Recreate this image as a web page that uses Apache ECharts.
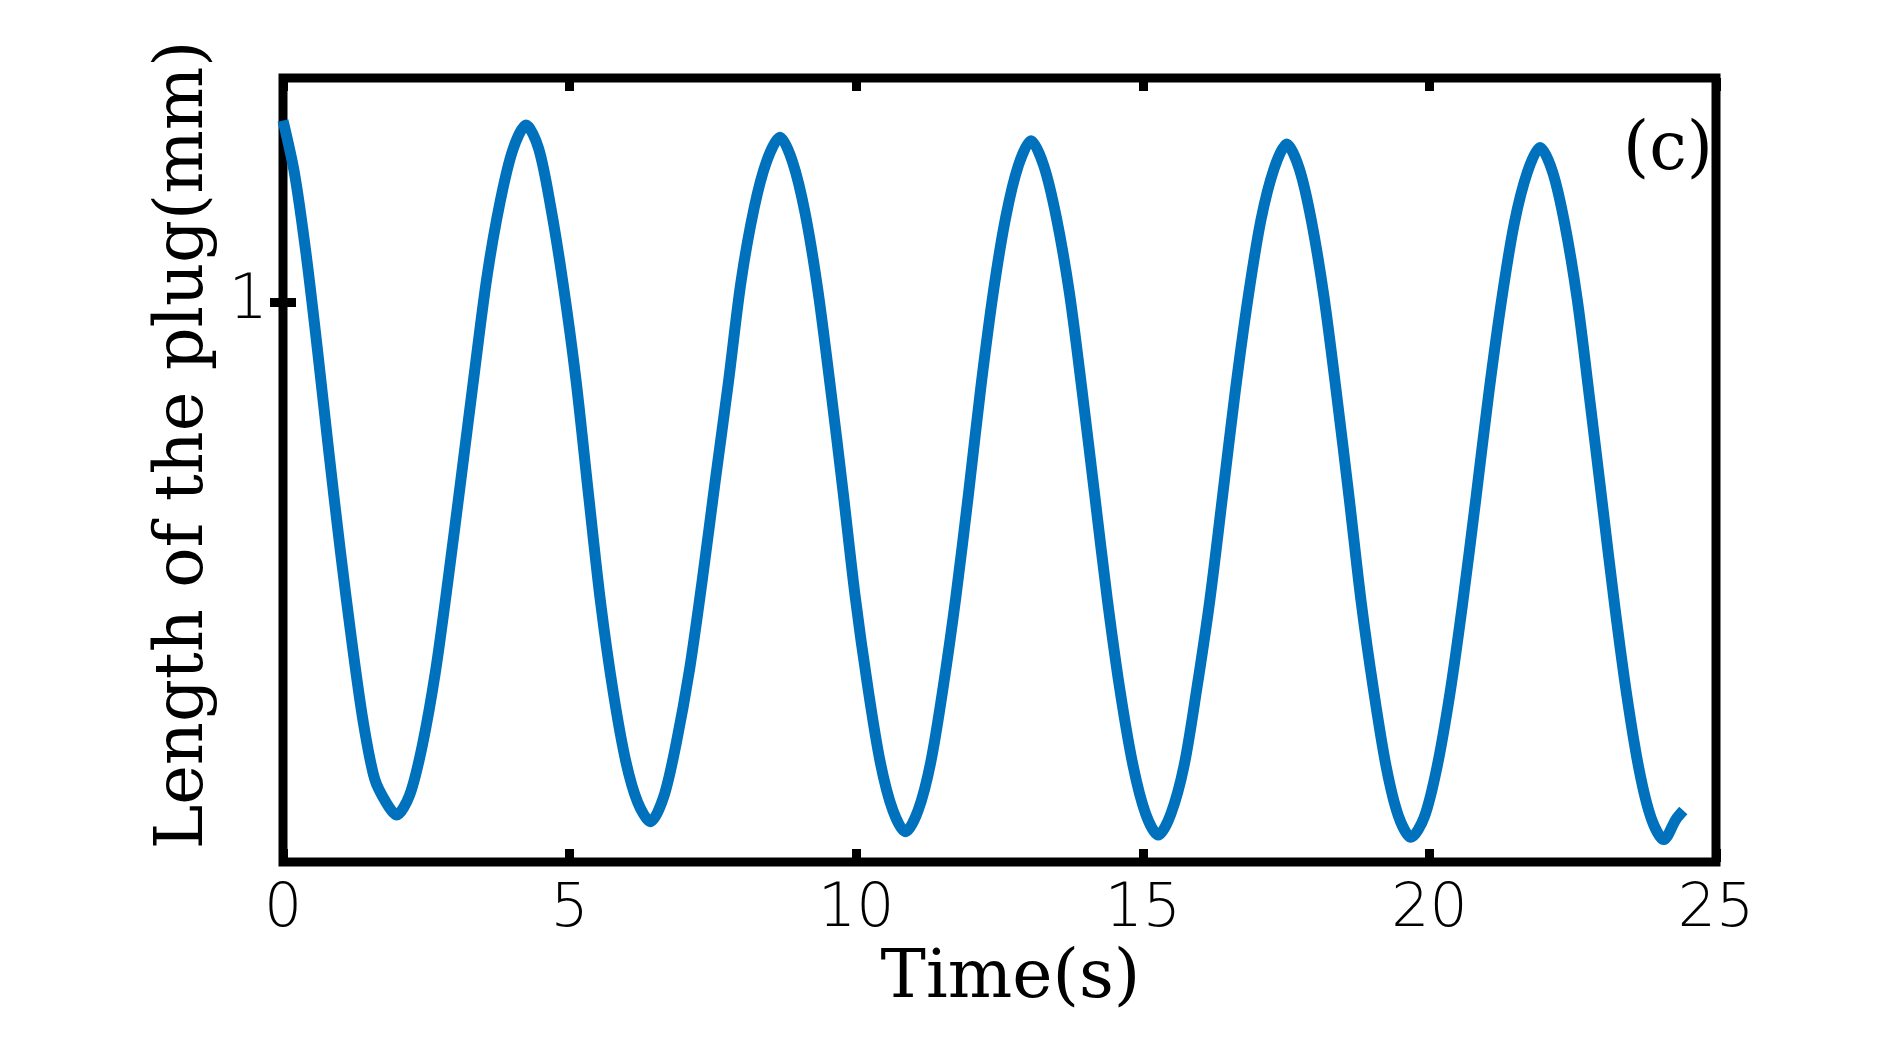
<!DOCTYPE html>
<html>
<head>
<meta charset="utf-8">
<script src="https://cdn.jsdelivr.net/npm/echarts@6/dist/echarts.min.js"></script>
<style>
  html, body { margin: 0; padding: 0; background: #fff; }
  #chart { width: 1898px; height: 1040px; }
</style>
</head>
<body>
<div id="chart"></div>
<script>
// plug length over time
const time = [
  0, 0.2, 0.4, 0.6, 0.8, 1.0, 1.2, 1.4, 1.6, 1.8, 1.98,
  2.21, 2.43, 2.66, 2.88, 3.11, 3.34, 3.56, 3.79, 4.01, 4.24,
  4.46, 4.67, 4.89, 5.11, 5.33, 5.54, 5.76, 5.98, 6.19, 6.41,
  6.64, 6.86, 7.09, 7.31, 7.54, 7.77, 7.99, 8.22, 8.44, 8.67,
  8.89, 9.11, 9.33, 9.55, 9.77, 9.98, 10.20, 10.42, 10.64, 10.86,
  11.08, 11.30, 11.52, 11.74, 11.96, 12.17, 12.39, 12.61, 12.83, 13.05,
  13.27, 13.49, 13.72, 13.94, 14.16, 14.38, 14.60, 14.83, 15.05, 15.27,
  15.49, 15.72, 15.94, 16.17, 16.39, 16.61, 16.84, 17.06, 17.29, 17.51,
  17.73, 17.94, 18.16, 18.38, 18.60, 18.81, 19.03, 19.25, 19.46, 19.68,
  19.91, 20.13, 20.36, 20.58, 20.81, 21.03, 21.26, 21.48, 21.71, 21.93,
  22.15, 22.36, 22.58, 22.79, 23.01, 23.23, 23.44, 23.66, 23.87, 24.09,
  24.30, 24.43
];
const plugLength = [
  1.162, 1.115, 1.044, 0.958, 0.866, 0.778, 0.697, 0.625, 0.574, 0.553, 0.542,
  0.560, 0.604, 0.670, 0.752, 0.844, 0.937, 1.023, 1.090, 1.136, 1.158,
  1.137, 1.085, 1.015, 0.931, 0.828, 0.732, 0.652, 0.590, 0.553, 0.536,
  0.558, 0.606, 0.671, 0.750, 0.840, 0.928, 1.018, 1.084, 1.126, 1.147,
  1.125, 1.079, 1.011, 0.924, 0.831, 0.738, 0.657, 0.589, 0.546, 0.527,
  0.546, 0.589, 0.657, 0.737, 0.829, 0.922, 1.008, 1.076, 1.122, 1.144,
  1.122, 1.076, 1.008, 0.921, 0.828, 0.735, 0.654, 0.586, 0.543, 0.524,
  0.543, 0.586, 0.654, 0.734, 0.826, 0.919, 1.005, 1.073, 1.119, 1.141,
  1.119, 1.073, 1.005, 0.918, 0.825, 0.732, 0.652, 0.584, 0.541, 0.522,
  0.540, 0.584, 0.651, 0.731, 0.824, 0.916, 1.002, 1.070, 1.116, 1.138,
  1.116, 1.070, 1.002, 0.916, 0.823, 0.730, 0.650, 0.582, 0.539, 0.520,
  0.538, 0.546
];
const yTicks = [1];

const chart = echarts.init(document.getElementById('chart'));

const tickStyle = { inside: true, length: 13, lineStyle: { color: '#000', width: 9 } };
const serif = 'DejaVu Serif';
const sans = 'DejaVu Sans';

const option = {
  animation: false,
  backgroundColor: '#fff',
  title: {
    text: '(c)',
    left: 1623,
    top: 118,
    padding: 0,
    textStyle: { fontFamily: serif, fontSize: 67, fontWeight: 'normal', color: '#000' }
  },
  grid: {
    left: 283, right: 182, top: 78, bottom: 178,
    show: true,
    borderColor: '#000',
    borderWidth: 9,
    backgroundColor: 'transparent'
  },
  xAxis: [
    {
      type: 'value', min: 0, max: 25, interval: 5, position: 'bottom',
      name: 'Time(s)', nameLocation: 'middle', nameGap: 66,
      nameTextStyle: { fontFamily: serif, fontSize: 68, color: '#000', padding: [0, 0, 0, 22] },
      axisLine: { show: false },
      axisTick: tickStyle,
      axisLabel: { fontFamily: sans, fontWeight: 200, fontSize: 60, color: '#000', margin: 18 },
      splitLine: { show: false }
    },
    {
      type: 'value', min: 0, max: 25, interval: 5, position: 'top',
      axisLine: { show: false },
      axisTick: tickStyle,
      axisLabel: { show: false },
      splitLine: { show: false }
    }
  ],
  yAxis: [
    {
      type: 'value', min: 0.5, max: 1.2, position: 'left',
      name: 'Length of the plug(mm)', nameLocation: 'middle', nameGap: 60,
      nameTextStyle: { fontFamily: serif, fontSize: 67, color: '#000', padding: [0, 0, 0, 50] },
      axisLine: { show: false },
      axisTick: Object.assign({ customValues: yTicks }, tickStyle),
      axisLabel: { customValues: yTicks, fontFamily: sans, fontWeight: 200, fontSize: 62, color: '#000', margin: 15 },
      splitLine: { show: false }
    },
    {
      type: 'value', min: 0.5, max: 1.2, position: 'right',
      axisLine: { show: false },
      axisTick: Object.assign({ customValues: yTicks }, tickStyle),
      axisLabel: { show: false },
      splitLine: { show: false }
    }
  ],
  series: [
    {
      type: 'line',
      xAxisIndex: 0,
      yAxisIndex: 0,
      data: time.map((t, i) => [t, plugLength[i]]),
      showSymbol: false,
      symbol: 'none',
      smooth: 0.3,
      lineStyle: { color: '#0072BD', width: 11, cap: 'butt', join: 'round' }
    }
  ]
};

chart.setOption(option);
</script>
</body>
</html>
